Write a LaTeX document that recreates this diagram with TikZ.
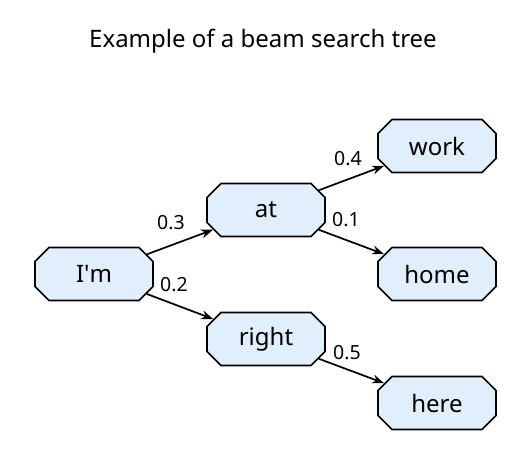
\documentclass[tikz,border=0pt]{standalone}
\usepackage{fontspec}
\setmainfont{Noto Sans}
\usetikzlibrary{shapes.misc,arrows.meta}
\definecolor{boxfill}{HTML}{E1EEFB}
\tikzset{
  wordbox/.style={chamfered rectangle, chamfered rectangle xsep=7pt, chamfered rectangle ysep=7pt,
    draw=black, line width=1.7pt, fill=boxfill, minimum width=118pt, minimum height=53pt,
    inner sep=0pt, font=\fontsize{24}{28}\selectfont},
  arr/.style={-{Stealth[length=12pt,width=9pt]}, line width=1.7pt},
  lbl/.style={font=\fontsize{19.5}{22}\selectfont, inner sep=0pt}
}
\begin{document}
\begin{tikzpicture}[x=1pt,y=-1pt]
\useasboundingbox (0,0) rectangle (520,466);
\node[font=\fontsize{24}{28}\selectfont, anchor=base] (title) at (263,47) {Example of a beam search tree};
\node[wordbox] (im) at (94,274) {I\textquotesingle m};
\node[wordbox] (at) at (266,210) {at};
\node[wordbox] (right) at (266,339) {right};
\node[wordbox] (work) at (437,146) {work};
\node[wordbox] (home) at (437,274) {home};
\node[wordbox] (here) at (437,403) {here};
\draw[arr] (im) -- (at);
\draw[arr] (im) -- (right);
\draw[arr] (at) -- (work);
\draw[arr] (at) -- (home);
\draw[arr] (right) -- (here);
\node[lbl] (l03) at (171,223) {0.3};
\node[lbl] (l02) at (174,285) {0.2};
\node[lbl] (l04) at (348,159) {0.4};
\node[lbl] (l01) at (346,220) {0.1};
\node[lbl] (l05) at (347,353) {0.5};
\end{tikzpicture}
\end{document}
